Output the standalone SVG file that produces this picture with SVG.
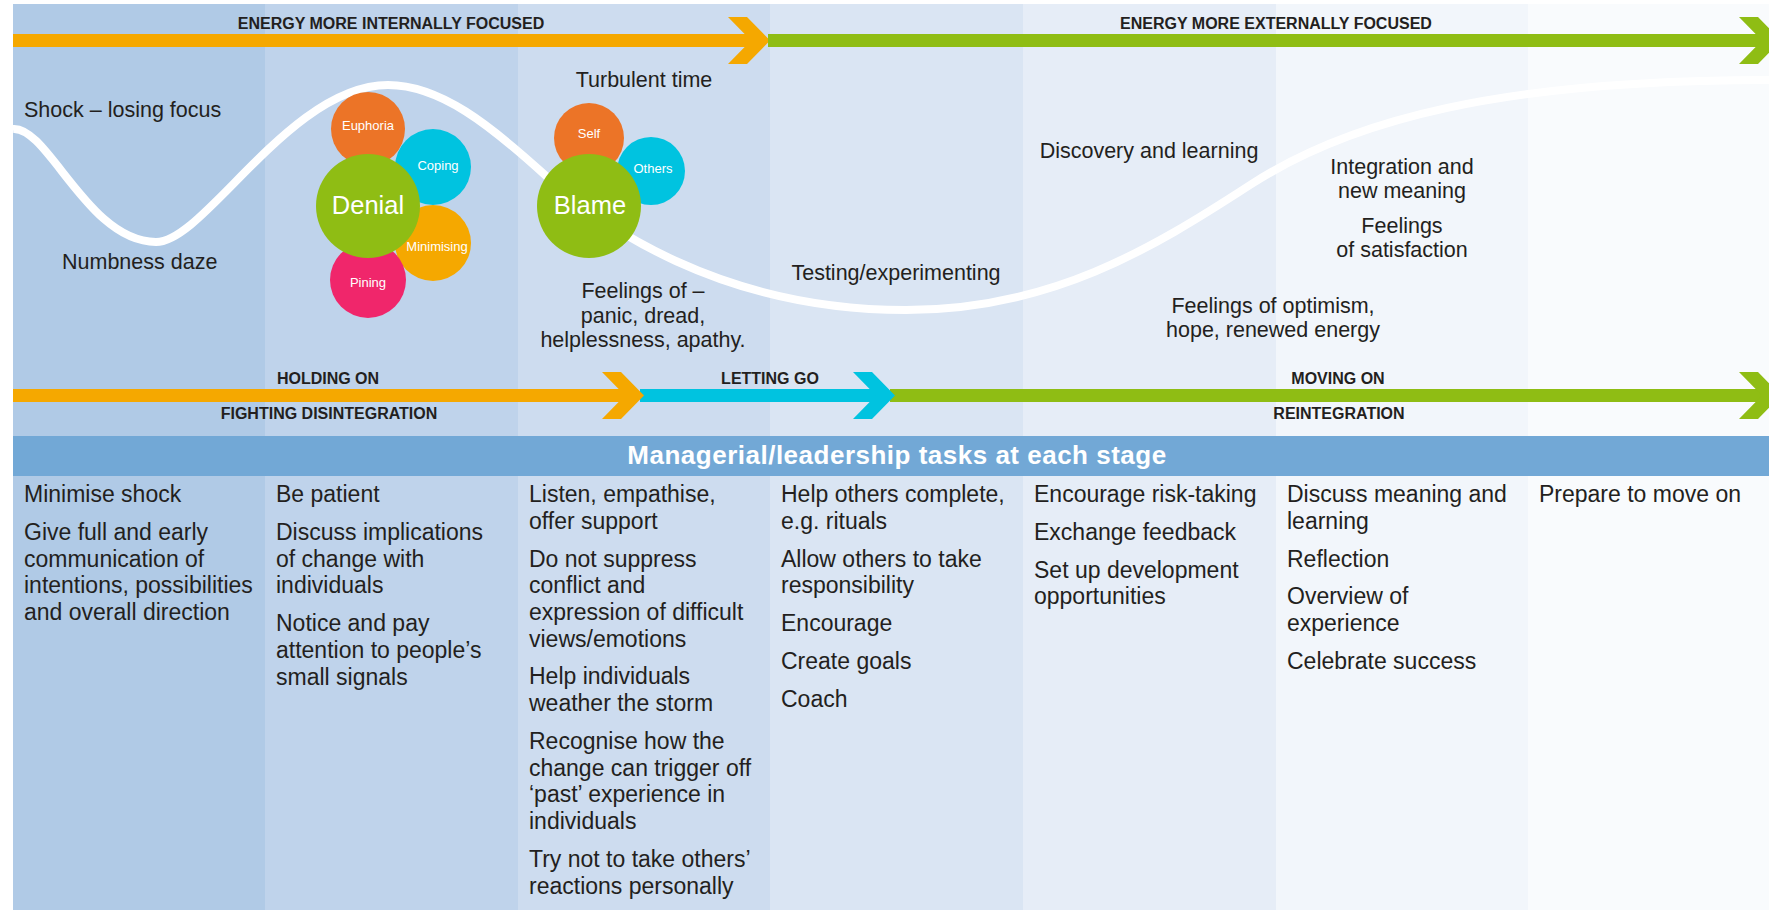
<svg xmlns="http://www.w3.org/2000/svg" width="1769" height="910" viewBox="0 0 1769 910">
<style>
.t{font-family:"Liberation Sans",Arial,sans-serif;fill:#231f20}
.lab{font-size:21.5px}
.col{font-size:23px}
.cap{font-size:16px;font-weight:bold}
.mid{text-anchor:middle}
.w{fill:#ffffff}
.sm{font-size:13px}
.big{font-size:25.5px}
.hdr{font-size:26px;font-weight:bold;letter-spacing:0.5px}
.or{fill:#f5a800}.gr{fill:#8fbd14}.cy{fill:#00c3e0}
</style>
<rect x="0" y="0" width="1769" height="910" fill="#ffffff"/>
<g id="columns">
<rect x="13" y="4" width="252" height="906" fill="#b0cae6"/>
<rect x="265" y="4" width="253" height="906" fill="#bfd3eb"/>
<rect x="518" y="4" width="252" height="906" fill="#cddcef"/>
<rect x="770" y="4" width="253" height="906" fill="#dae5f3"/>
<rect x="1023" y="4" width="253" height="906" fill="#e6edf7"/>
<rect x="1276" y="4" width="252" height="906" fill="#f2f6fb"/>
<rect x="1528" y="4" width="241" height="906" fill="#f9fbfd"/>
</g>
<g id="connectors">
<rect class="or" x="13" y="34" width="745" height="13"/>
<polygon class="or" points="728,17 747,17 770,40.5 747,64 728,64 751,40.5"/>
<rect class="gr" x="768" y="34" width="1001" height="13"/>
<polygon class="gr" points="1739,17 1758,17 1781,40.5 1758,64 1739,64 1762,40.5"/>
<rect class="or" x="13" y="389" width="620" height="13"/>
<rect class="cy" x="640" y="389" width="242" height="13"/>
<polygon class="or" points="602,372 621,372 644,395.5 621,419 602,419 625,395.5"/>
<rect class="gr" x="890" y="389" width="879" height="13"/>
<polygon class="cy" points="853,372 872,372 895,395.5 872,419 853,419 876,395.5"/>
<polygon class="gr" points="1739,372 1758,372 1781,395.5 1758,419 1739,419 1762,395.5"/>
<path id="curve" d="M13,129 C48,126 88,242 156,242 C205,242 290,85 388,85 C440,85 490,125 545,175 C600,225 720,310 906,310 C1050,310 1150,250 1250,185 C1350,120 1500,80 1769,80" fill="none" stroke="#ffffff" stroke-width="8"/>
</g>
<g id="arrow-labels">
<text class="t cap mid" x="391" y="29">ENERGY MORE INTERNALLY FOCUSED</text>
<text class="t cap mid" x="1276" y="29">ENERGY MORE EXTERNALLY FOCUSED</text>
<text class="t cap mid" x="328" y="384">HOLDING ON</text>
<text class="t cap mid" x="329" y="419">FIGHTING DISINTEGRATION</text>
<text class="t cap mid" x="770" y="384">LETTING GO</text>
<text class="t cap mid" x="1338" y="384">MOVING ON</text>
<text class="t cap mid" x="1339" y="419">REINTEGRATION</text>
</g>
<g id="denial">
<circle cx="368" cy="129" r="37" fill="#ec7427"/>
<circle cx="433" cy="167" r="38" fill="#00c3e0"/>
<circle cx="433" cy="243" r="38" fill="#f5a800"/>
<circle cx="368" cy="280" r="38" fill="#f0266b"/>
<circle cx="368" cy="206" r="52" fill="#8fbd14"/>
<text class="t w sm mid" x="368" y="130">Euphoria</text>
<text class="t w sm mid" x="438" y="170">Coping</text>
<text class="t w sm mid" x="437" y="251">Minimising</text>
<text class="t w sm mid" x="368" y="287">Pining</text>
<text class="t w big mid" x="368" y="214">Denial</text>
</g>
<g id="blame">
<circle cx="589" cy="138" r="35" fill="#ec7427"/>
<circle cx="651" cy="171" r="34" fill="#00c3e0"/>
<circle cx="589" cy="206" r="52" fill="#8fbd14"/>
<text class="t w sm mid" x="589" y="138">Self</text>
<text class="t w sm mid" x="653" y="173">Others</text>
<text class="t w big mid" x="590" y="214">Blame</text>
</g>
<g id="curve-labels">
<text class="t lab" x="24" y="117">Shock – losing focus</text>
<text class="t lab" x="62" y="269">Numbness daze</text>
<text class="t lab mid" x="644" y="87">Turbulent time</text>
<text class="t lab mid" x="643"><tspan x="643" y="298">Feelings of –</tspan><tspan x="643" y="322.5">panic, dread,</tspan><tspan x="643" y="347">helplessness, apathy.</tspan></text>
<text class="t lab mid" x="896" y="280">Testing/experimenting</text>
<text class="t lab mid" x="1149" y="158">Discovery and learning</text>
<text class="t lab mid" x="1402"><tspan x="1402" y="174">Integration and</tspan><tspan x="1402" y="198">new meaning</tspan></text>
<text class="t lab mid" x="1402"><tspan x="1402" y="233">Feelings</tspan><tspan x="1402" y="257">of satisfaction</tspan></text>
<text class="t lab mid" x="1273"><tspan x="1273" y="313">Feelings of optimism,</tspan><tspan x="1273" y="337">hope, renewed energy</tspan></text>
</g>
<g id="header">
<rect x="13" y="436" width="1756" height="40" fill="#72a8d6"/>
<text class="t w hdr mid" x="897" y="464">Managerial/leadership tasks at each stage</text>
</g>
<g id="tasks-1">
<text class="t col" x="24"><tspan x="24" y="502">Minimise shock</tspan><tspan x="24" y="540">Give full and early</tspan><tspan x="24" y="566.7">communication of</tspan><tspan x="24" y="593.4">intentions, possibilities</tspan><tspan x="24" y="620.1">and overall direction</tspan></text>
</g>
<g id="tasks-2">
<text class="t col" x="276"><tspan x="276" y="502">Be patient</tspan><tspan x="276" y="540">Discuss implications</tspan><tspan x="276" y="566.7">of change with</tspan><tspan x="276" y="593.4">individuals</tspan><tspan x="276" y="631.2">Notice and pay</tspan><tspan x="276" y="657.9">attention to people’s</tspan><tspan x="276" y="684.6">small signals</tspan></text>
</g>
<g id="tasks-3">
<text class="t col" x="529"><tspan x="529" y="502">Listen, empathise,</tspan><tspan x="529" y="528.7">offer support</tspan><tspan x="529" y="566.5">Do not suppress</tspan><tspan x="529" y="593.2">conflict and</tspan><tspan x="529" y="619.9">expression of difficult</tspan><tspan x="529" y="646.6">views/emotions</tspan><tspan x="529" y="684.4">Help individuals</tspan><tspan x="529" y="711.1">weather the storm</tspan><tspan x="529" y="748.9">Recognise how the</tspan><tspan x="529" y="775.6">change can trigger off</tspan><tspan x="529" y="802.3">‘past’ experience in</tspan><tspan x="529" y="829">individuals</tspan><tspan x="529" y="866.8">Try not to take others’</tspan><tspan x="529" y="893.5">reactions personally</tspan></text>
</g>
<g id="tasks-4">
<text class="t col" x="781"><tspan x="781" y="502">Help others complete,</tspan><tspan x="781" y="528.7">e.g. rituals</tspan><tspan x="781" y="566.5">Allow others to take</tspan><tspan x="781" y="593.2">responsibility</tspan><tspan x="781" y="631">Encourage</tspan><tspan x="781" y="668.8">Create goals</tspan><tspan x="781" y="706.6">Coach</tspan></text>
</g>
<g id="tasks-5">
<text class="t col" x="1034"><tspan x="1034" y="502">Encourage risk-taking</tspan><tspan x="1034" y="539.8">Exchange feedback</tspan><tspan x="1034" y="577.6">Set up development</tspan><tspan x="1034" y="604.3">opportunities</tspan></text>
</g>
<g id="tasks-6">
<text class="t col" x="1287"><tspan x="1287" y="502">Discuss meaning and</tspan><tspan x="1287" y="528.7">learning</tspan><tspan x="1287" y="566.5">Reflection</tspan><tspan x="1287" y="604.3">Overview of</tspan><tspan x="1287" y="631">experience</tspan><tspan x="1287" y="668.8">Celebrate success</tspan></text>
</g>
<g id="tasks-7">
<text class="t col" x="1539" y="502">Prepare to move on</text>
</g>
</svg>
